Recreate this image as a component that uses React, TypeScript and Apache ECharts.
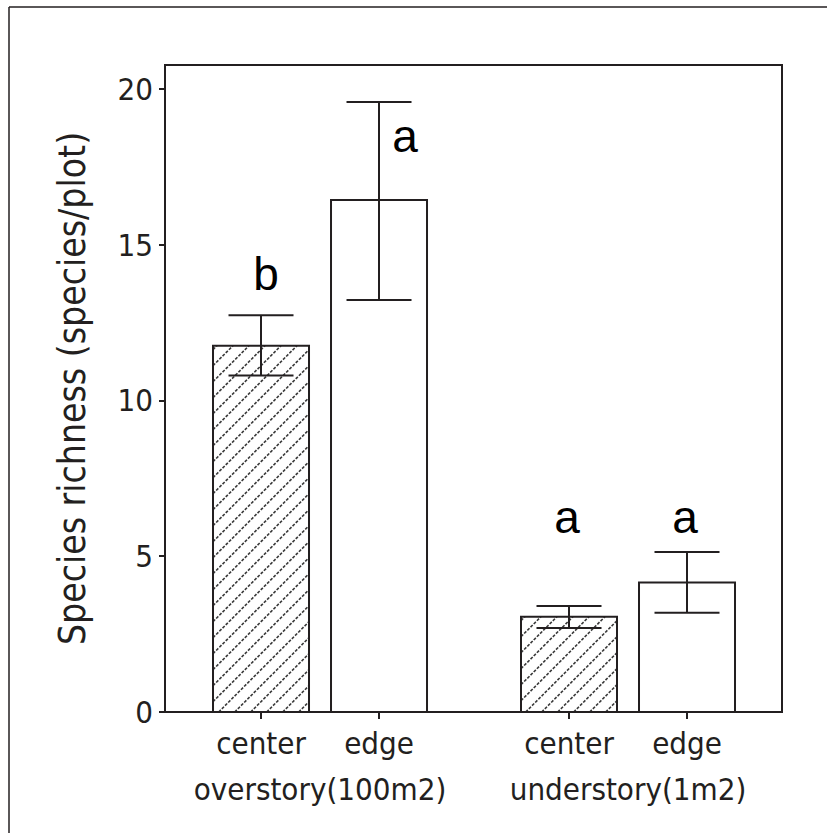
import React, { useEffect, useRef } from "react";
import * as echarts from "echarts";

// ---- data ----
const categories = ["center", "edge", "center", "edge"];
const groups = ["overstory(100m2)", "understory(1m2)"];
const meanValues = [11.76, 16.44, 3.06, 4.16];
const lowerValues = [10.8, 13.23, 2.7, 3.19];
const upperValues = [12.74, 19.58, 3.4, 5.14];
const hatched = [true, false, true, false];
const letters = ["b", "a", "a", "a"];
const letterValues = [14.06, 18.49, 6.25, 6.25];
const yTicks = [0, 5, 10, 15, 20];

// ---- layout ----
const X_POS = [1, 2, 3.61, 4.61];
const GROUP_POS = [1.5, 4.11];
const LETTER_DX = [5, 26, -2, -2];
const X_MIN = 0.1864;
const X_MAX = 5.415;
const Y_MAX = 20.77;
const BAR_W = 96;
const CAP_W = 65;
const HATCH_STEP = 16;
const INK = "#231f20";
const FONT = "'DejaVu Sans Condensed', 'DejaVu Sans', sans-serif";

function near(v: number, arr: number[]) {
  for (let i = 0; i < arr.length; i++) if (Math.abs(arr[i] - v) < 1e-6) return i;
  return -1;
}

export default function App() {
  const ref = useRef<HTMLDivElement>(null);
  useEffect(() => {
    document.body.style.margin = "0";
    const chart = echarts.init(ref.current!, null, { renderer: "svg" });
    const option: any = {
      animation: false,
      backgroundColor: "#fff",
      grid: {
        left: 165,
        right: 45,
        top: 65,
        bottom: 121,
        show: true,
        borderColor: INK,
        borderWidth: 2,
      },
      graphic: [
        { type: "line", shape: { x1: 9, y1: 7, x2: 827, y2: 7 }, style: { stroke: INK, lineWidth: 1.5 } },
        { type: "line", shape: { x1: 9, y1: 7, x2: 9, y2: 833 }, style: { stroke: INK, lineWidth: 1.5 } },
      ],
      xAxis: [
        {
          type: "value",
          min: X_MIN,
          max: X_MAX,
          splitLine: { show: false },
          axisLine: { show: true, lineStyle: { color: INK, width: 2 } },
          axisTick: { show: true, customValues: X_POS, length: 7, lineStyle: { color: INK, width: 2 } },
          axisLabel: {
            customValues: X_POS,
            margin: 15,
            color: INK,
            fontSize: 31,
            fontFamily: FONT,
            formatter: (v: number) => {
              const i = near(v, X_POS);
              return i >= 0 ? categories[i] : "";
            },
          },
        },
        {
          type: "value",
          min: X_MIN,
          max: X_MAX,
          position: "bottom",
          offset: 47,
          splitLine: { show: false },
          axisLine: { show: false },
          axisTick: { show: false },
          axisLabel: {
            customValues: GROUP_POS,
            margin: 14,
            color: INK,
            fontSize: 31,
            fontFamily: FONT,
            formatter: (v: number) => {
              const i = near(v, GROUP_POS);
              return i >= 0 ? groups[i] : "";
            },
          },
        },
      ],
      yAxis: {
        type: "value",
        min: 0,
        max: Y_MAX,
        interval: 5,
        name: "Species richness (species/plot)",
        nameLocation: "middle",
        nameGap: 74,
        nameTextStyle: { fontSize: 37, fontFamily: FONT, color: INK },
        splitLine: { show: false },
        axisLine: { show: true, lineStyle: { color: INK, width: 2 } },
        axisTick: { show: true, customValues: yTicks, length: 6, lineStyle: { color: INK, width: 2 } },
        axisLabel: {
          customValues: yTicks,
          margin: 12,
          color: INK,
          fontSize: 31,
          fontFamily: FONT,
        },
      },
      series: [
        {
          type: "custom",
          xAxisIndex: 0,
          encode: { x: 0, y: 1 },
          data: meanValues.map((v, i) => [X_POS[i], v]),
          renderItem: (params: any, api: any) => {
            const i = params.dataIndex;
            const top = api.coord([api.value(0), api.value(1)]);
            const base = api.coord([api.value(0), 0]);
            const x0 = top[0] - BAR_W / 2;
            const x1 = top[0] + BAR_W / 2;
            const y0 = top[1];
            const y1 = base[1];
            const children: any[] = [
              { type: "rect", shape: { x: x0, y: y0, width: BAR_W, height: y1 - y0 }, style: { fill: "#fff" } },
            ];
            if (hatched[i]) {
              for (let k = x0 + y0 + 4; k < x1 + y1; k += HATCH_STEP) {
                const xa = Math.max(x0, k - y1);
                const xb = Math.min(x1, k - y0);
                if (xb > xa) {
                  children.push({
                    type: "line",
                    shape: { x1: xa, y1: k - xa, x2: xb, y2: k - xb },
                    style: { stroke: "#3a3a3a", lineWidth: 1.6, lineDash: [3, 1.5] },
                  });
                }
              }
            }
            children.push({
              type: "rect",
              shape: { x: x0, y: y0, width: BAR_W, height: y1 - y0 },
              style: { fill: "none", stroke: INK, lineWidth: 2 },
            });
            return { type: "group", children };
          },
          z: 3,
        },
        {
          type: "custom",
          xAxisIndex: 0,
          encode: { x: 0, y: [1, 2] },
          data: lowerValues.map((v, i) => [X_POS[i], v, upperValues[i]]),
          renderItem: (params: any, api: any) => {
            const lo = api.coord([api.value(0), api.value(1)]);
            const hi = api.coord([api.value(0), api.value(2)]);
            const st = { stroke: INK, lineWidth: 2 };
            return {
              type: "group",
              children: [
                { type: "line", shape: { x1: lo[0], y1: lo[1], x2: hi[0], y2: hi[1] }, style: st },
                { type: "line", shape: { x1: lo[0] - CAP_W / 2, y1: lo[1], x2: lo[0] + CAP_W / 2, y2: lo[1] }, style: st },
                { type: "line", shape: { x1: hi[0] - CAP_W / 2, y1: hi[1], x2: hi[0] + CAP_W / 2, y2: hi[1] }, style: st },
              ],
            };
          },
          z: 4,
        },
        {
          type: "custom",
          xAxisIndex: 0,
          encode: { x: 0, y: 1 },
          data: letterValues.map((v, i) => [X_POS[i], v]),
          renderItem: (params: any, api: any) => {
            const i = params.dataIndex;
            const p = api.coord([api.value(0), api.value(1)]);
            return {
              type: "text",
              x: p[0] + LETTER_DX[i],
              y: p[1],
              style: {
                text: letters[i],
                fontSize: 46,
                fontFamily: "'Liberation Sans', Arial, sans-serif",
                fill: "#000",
                align: "center",
                verticalAlign: "middle",
              },
            };
          },
          z: 5,
        },
      ],
    };
    chart.setOption(option);
    return () => chart.dispose();
  }, []);
  return <div ref={ref} style={{ width: 827, height: 833 }} />;
}
